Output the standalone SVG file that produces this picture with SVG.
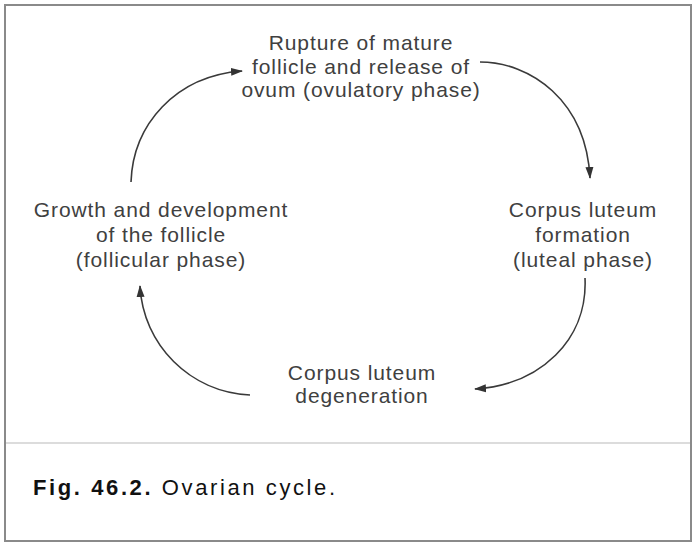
<svg xmlns="http://www.w3.org/2000/svg" width="697" height="543" viewBox="0 0 697 543">
  <style>
    .frame { fill: #ffffff; stroke: #8a8a8a; stroke-width: 2; }
    .divider { stroke: #d0d0d0; stroke-width: 1.5; }
    .label { font-family: "Liberation Sans", Arial, sans-serif; font-size: 21px; letter-spacing: 0.9px; fill: #404040; text-anchor: middle; }
    .conn { fill: none; stroke: #3a3a3a; stroke-width: 1.6; }
    .caption { font-family: "Liberation Sans", Arial, sans-serif; font-size: 22px; fill: #111; letter-spacing: 2.6px; }
  </style>
  <defs>
    <marker id="arrow" viewBox="0 0 12 10" refX="11" refY="5" markerWidth="12" markerHeight="10" markerUnits="userSpaceOnUse" orient="auto">
      <path d="M0,1 L12,5 L0,9 Z" fill="#333"/>
    </marker>
  </defs>

  <rect class="frame" x="5" y="5" width="686" height="536"/>
  <line class="divider" x1="6" y1="443" x2="690" y2="443"/>

  <g id="ovulatory">
    <text class="label" x="361" y="50">Rupture of mature</text>
    <text class="label" x="361" y="74">follicle and release of</text>
    <text class="label" x="361" y="97">ovum (ovulatory phase)</text>
  </g>
  <g id="follicular">
    <text class="label" x="161" y="217">Growth and development</text>
    <text class="label" x="161" y="242">of the follicle</text>
    <text class="label" x="161" y="267">(follicular phase)</text>
  </g>
  <g id="luteal">
    <text class="label" x="583" y="217">Corpus luteum</text>
    <text class="label" x="583" y="242">formation</text>
    <text class="label" x="583" y="267">(luteal phase)</text>
  </g>
  <g id="degeneration">
    <text class="label" x="362" y="380">Corpus luteum</text>
    <text class="label" x="362" y="403">degeneration</text>
  </g>

  <g id="connectors">
    <path class="conn" marker-end="url(#arrow)" d="M131,182 C133,125 175,76 242,71"/>
    <path class="conn" marker-end="url(#arrow)" d="M480,62 C530,62 586,100 590,178"/>
    <path class="conn" marker-end="url(#arrow)" d="M585,278 C588,340 540,385 475,389"/>
    <path class="conn" marker-end="url(#arrow)" d="M250,395 C190,392 143,345 140,286"/>
  </g>

  <g id="caption">
    <text class="caption" x="33" y="495"><tspan font-weight="bold">Fig. 46.2.</tspan> Ovarian cycle.</text>
  </g>
</svg>
